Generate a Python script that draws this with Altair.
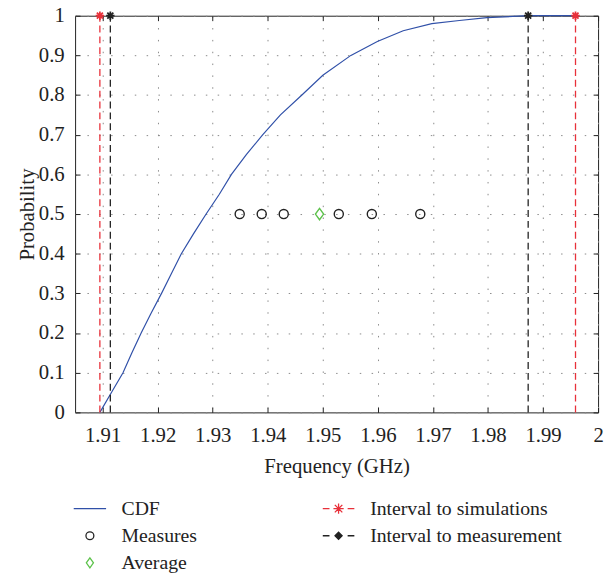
import altair as alt
import pandas as pd

# ---- data ----
cdf_freq = [1.9095, 1.9116, 1.9137, 1.9153, 1.9170, 1.9188, 1.9207, 1.9225, 1.9243,
            1.9265, 1.9288, 1.9312, 1.9334, 1.9361, 1.9391, 1.9423, 1.9462, 1.9500,
            1.9551, 1.9599, 1.9646, 1.9698, 1.9748, 1.9798, 1.9873, 1.9960]
cdf_prob = [0.0, 0.05, 0.10, 0.15, 0.20, 0.25, 0.30, 0.35, 0.40,
            0.45, 0.50, 0.55, 0.60, 0.65, 0.70, 0.75, 0.80, 0.85,
            0.90, 0.935, 0.962, 0.980, 0.988, 0.995, 1.0, 1.0]

measures_freq = [1.9349, 1.9389, 1.9429, 1.9529, 1.9589, 1.9677]
average_freq = [1.9494]
marker_prob = 0.5

sim_interval = [1.9095, 1.9959]
meas_interval = [1.9114, 1.9873]

x_ticks = [1.91, 1.92, 1.93, 1.94, 1.95, 1.96, 1.97, 1.98, 1.99, 2.0]
y_ticks = [0, 0.1, 0.2, 0.3, 0.4, 0.5, 0.6, 0.7, 0.8, 0.9, 1]

# legend entries (filled column by column: left column first)
series = ["CDF", "Measures", "Average", "Interval to simulations", "Interval to measurement"]
BLUE, RED, BLACK, GREEN = "#3050a8", "#e8303a", "#222222", "#5cc24a"
stroke_colors = [BLUE, BLACK, GREEN, RED, BLACK]
fill_colors = ["transparent", "transparent", "transparent", RED, BLACK]

ASTER = "M-1,0H1M0,-1V1M-0.72,-0.72L0.72,0.72M-0.72,0.72L0.72,-0.72"
shape_paths = [
    "M-4.1,0H4.1",
    "circle",
    "M0,-1.25L0.9,0L0,1.25L-0.9,0Z",
    "M-4,0H-2.3M2.3,0H4M-1.3,0H1.3M0,-1.3V1.3M-0.95,-0.95L0.95,0.95M-0.95,0.95L0.95,-0.95",
    "M-4,0H-2.3M2.3,0H4M0,-0.9L0.9,0L0,0.9L-0.9,0Z",
]

FONT = "Liberation Serif"
TXT = "#222222"

# ---- tables ----
cdf_df = pd.DataFrame({"freq": cdf_freq, "prob": cdf_prob})
pts_df = pd.DataFrame({
    "freq": measures_freq + average_freq,
    "prob": [marker_prob] * (len(measures_freq) + len(average_freq)),
    "series": ["Measures"] * len(measures_freq) + ["Average"] * len(average_freq),
})
sim_df = pd.DataFrame({"freq": sim_interval, "lo": [0.0, 0.0], "hi": [1.0, 1.0]})
meas_df = pd.DataFrame({"freq": meas_interval, "lo": [0.0, 0.0], "hi": [1.0, 1.0]})

xscale = alt.Scale(domain=[1.905, 2.0], nice=False, zero=False)
yscale = alt.Scale(domain=[0, 1], nice=False, zero=False)
stroke_scale = alt.Scale(domain=series, range=stroke_colors)
fill_scale = alt.Scale(domain=series, range=fill_colors)
shape_scale = alt.Scale(domain=series, range=shape_paths)

main_x = alt.Axis(values=x_ticks, format=".2~f", orient="bottom", offset=-5, tickSize=5,
                  domain=False, grid=True, gridDash=[1.5, 10.5], gridColor="#8a8a8a",
                  tickColor=TXT, tickWidth=1, labelFont=FONT, labelFontSize=21,
                  labelColor=TXT, labelPadding=13, labelFlush=False, labelOverlap=False,
                  title="Frequency (GHz)", titleFont=FONT, titleFontSize=21,
                  titleFontWeight="normal", titleColor=TXT, titlePadding=10)
main_y = alt.Axis(values=y_ticks, format=".1~f", orient="left", offset=-5, tickSize=5,
                  domain=False, grid=True, gridDash=[1.5, 10.5], gridColor="#8a8a8a",
                  tickColor=TXT, tickWidth=1, labelFont=FONT, labelFontSize=21,
                  labelColor=TXT, labelPadding=11, labelFlush=False, labelOverlap=False,
                  title="Probability", titleFont=FONT, titleFontSize=21,
                  titleFontWeight="normal", titleColor=TXT, titlePadding=1)
top_x = alt.Axis(values=x_ticks, orient="top", offset=-5, tickSize=5, domain=False,
                 grid=False, labels=False, tickColor=TXT, tickWidth=1, title=None)
right_y = alt.Axis(values=y_ticks, orient="right", offset=-5, tickSize=5, domain=False,
                   grid=False, labels=False, tickColor=TXT, tickWidth=1, title=None)

line = alt.Chart(cdf_df).mark_line(color=BLUE, strokeWidth=1.2).encode(
    x=alt.X("freq:Q", scale=xscale, axis=main_x),
    y=alt.Y("prob:Q", scale=yscale, axis=main_y),
)


def interval_layers(df, color, axes):
    ax_x, ax_y = axes
    rule = alt.Chart(df).mark_rule(strokeDash=[7, 4], strokeWidth=1.3, color=color).encode(
        x=alt.X("freq:Q", scale=xscale, axis=ax_x),
        y=alt.Y("lo:Q", scale=yscale, axis=ax_y),
        y2="hi:Q",
    )
    star = alt.Chart(df).mark_point(shape=ASTER, size=72, strokeWidth=1.8, opacity=1,
                                    filled=True, fill=color, stroke=color).encode(
        x=alt.X("freq:Q", scale=xscale, axis=None),
        y=alt.Y("hi:Q", scale=yscale, axis=None),
    )
    return rule, star


sim_rule, sim_star = interval_layers(sim_df, RED, (top_x, right_y))
meas_rule, meas_star = interval_layers(meas_df, BLACK, (None, None))

pts = alt.Chart(pts_df).mark_point(size=85, strokeWidth=1.4, opacity=1, filled=False).encode(
    x=alt.X("freq:Q", scale=xscale, axis=None),
    y=alt.Y("prob:Q", scale=yscale, axis=None),
    stroke=alt.Stroke("series:N", scale=stroke_scale, legend=alt.Legend(title=None)),
    fill=alt.Fill("series:N", scale=fill_scale, legend=alt.Legend(title=None)),
    shape=alt.Shape("series:N", scale=shape_scale, legend=alt.Legend(title=None)),
)

chart = alt.layer(line, sim_rule, meas_rule, pts, sim_star, meas_star).resolve_scale(
    x="independent", y="independent"
).properties(
    width=530, height=402,
    autosize=alt.AutoSizeParams(type="none"),
    padding={"left": 68, "top": 4, "right": 6, "bottom": 163},
).configure_view(
    stroke=TXT, strokeWidth=1
).configure_legend(
    orient="none", legendX=-2, legendY=489.5, columns=2, columnPadding=124,
    rowPadding=7.5, padding=0, symbolSize=64, symbolStrokeWidth=1.3,
    symbolOpacity=1, symbolOffset=7, labelOffset=22, labelFont=FONT,
    labelFontSize=20, labelColor=TXT, labelLimit=400,
)

chart.save("out.html", embed_options={"renderer": "svg", "actions": False})
